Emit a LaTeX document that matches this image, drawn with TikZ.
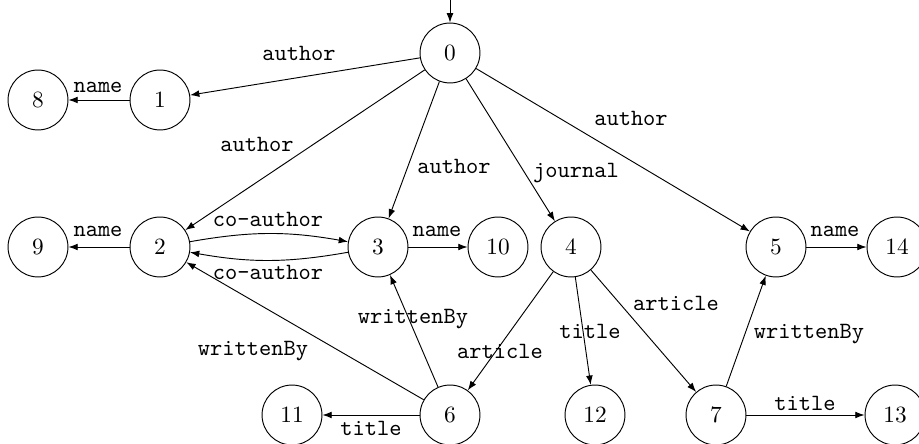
\documentclass[tikz,border=0pt]{standalone}
\usetikzlibrary{arrows.meta}
\begin{document}
\begin{tikzpicture}[x=0.429pt,y=-0.429pt,
  st/.style={circle,draw,line width=0.4pt,minimum size=25.7pt,inner sep=0pt,font=\normalsize},
  arr/.style={-{Latex[length=4pt,width=2.9pt]},line width=0.4pt},
  lbl/.style={font=\ttfamily,inner sep=0pt}]
\useasboundingbox (0,0) rectangle (919,444);
\clip (0,0) rectangle (919,444);
\node[st] (0) at (450,53) {0};
\node[st] (1) at (160,100) {1};
\node[st] (8) at (38,100) {8};
\node[st] (2) at (160,247) {2};
\node[st] (9) at (38,247) {9};
\node[st] (3) at (378,247) {3};
\node[st] (10) at (498,247) {10};
\node[st] (4) at (571,247) {4};
\node[st] (5) at (776,247) {5};
\node[st] (14) at (897,247) {14};
\node[st] (6) at (450,415) {6};
\node[st] (11) at (292,415) {11};
\node[st] (12) at (595,415) {12};
\node[st] (7) at (716,415) {7};
\node[st] (13) at (895,415) {13};
\coordinate (init) at (450,-5);
\draw[arr] (init) -- (0);
\draw[arr] (0) -- (1) node[lbl] at (299,53) {author};
\draw[arr] (1) -- (8) node[lbl] at (98,87) {name};
\draw[arr] (0) -- (2) node[lbl] at (257,144) {author};
\draw[arr] (0) -- (3) node[lbl] at (454,166) {author};
\draw[arr] (0) -- (4) node[lbl] at (576,173) {journal};
\draw[arr] (0) -- (5) node[lbl] at (631,118) {author};
\draw[arr] (2) -- (9) node[lbl] at (98,231) {name};
\draw[arr] (2) to[bend left=10] (3) node[lbl] at (268,219) {co-author};
\draw[arr] (3) to[bend left=10] (2) node[lbl] at (268,272) {co-author};
\draw[arr] (3) -- (10) node[lbl] at (437,231) {name};
\draw[arr] (5) -- (14) node[lbl] at (835,231) {name};
\draw[arr] (4) -- (6) node[lbl] at (500,351) {article};
\draw[arr] (4) -- (12) node[lbl] at (590,331) {title};
\draw[arr] (4) -- (7) node[lbl] at (676,303) {article};
\draw[arr] (6) -- (2) node[lbl] at (253,351) {writtenBy};
\draw[arr] (6) -- (3) node[lbl] at (413,319) {writtenBy};
\draw[arr] (6) -- (11) node[lbl] at (371,428) {title};
\draw[arr] (7) -- (5) node[lbl] at (809,334) {writtenBy};
\draw[arr] (7) -- (13) node[lbl] at (805,403) {title};
\end{tikzpicture}
\end{document}
